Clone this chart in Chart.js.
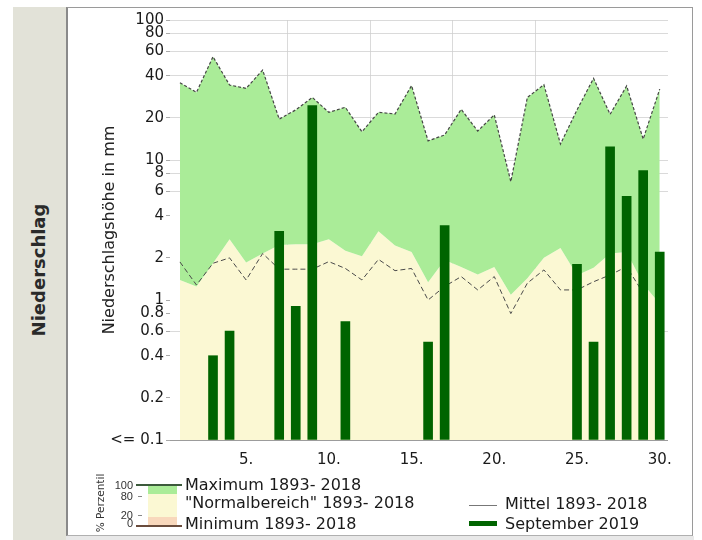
<!DOCTYPE html>
<html>
<head>
<meta charset="utf-8">
<script src="https://cdn.jsdelivr.net/npm/chart.js@4.4.0/dist/chart.umd.min.js"></script>
<style>
  body { margin: 0; background: #fff; font-family: "DejaVu Sans", sans-serif; color: #1a1a1a; }
  #wrap { position: relative; width: 702px; height: 540px; overflow: hidden; }
  #band { position: absolute; left: 13px; top: 7px; width: 53px; height: 533px; background: #e2e2d8; }
  #frame { position: absolute; left: 66px; top: 7px; width: 624px; height: 527px;
           border-top: 1px solid #9a9a9a; border-left: 2px solid #8a8a8a;
           border-right: 1px solid #9a9a9a; border-bottom: 1px solid #b0b0b0; }
  #under { position: absolute; left: 66px; top: 536px; width: 628px; height: 4px; background: #e8e8e8; }
  .rot { position: absolute; white-space: nowrap; transform: translate(-50%, -50%) rotate(-90deg); }
  #bandText { left: 38px; top: 270px; font-weight: bold; font-size: 18px; color: #2a2a2a; }
  #perz { left: 100px; top: 503px; font-size: 10.5px; color: #333; }
  canvas { position: absolute; left: 0; top: 0; z-index: 1; }
  .lg { position: absolute; z-index: 2; font-size: 16px; line-height: 16px; white-space: nowrap; }
  .pl { position: absolute; z-index: 2; font-family: "Liberation Sans Narrow", "Liberation Sans", sans-serif;
        font-size: 11px; line-height: 11px; color: #333; width: 20px; text-align: right; }
  .sw { position: absolute; z-index: 2; }
</style>
</head>
<body>
<div id="wrap">
  <div id="band"></div>
  <div id="bandText" class="rot">Niederschlag</div>
  <div id="frame"></div>
  <div id="under"></div>
  <canvas id="chart" width="702" height="540" style="width:702px;height:540px"></canvas>

  <!-- percentile key -->
  <div id="perz" class="rot" style="z-index:2">% Perzentil</div>
  <div class="pl" style="left:113px;top:480px">100</div>
  <div class="pl" style="left:113px;top:491px">80</div>
  <div class="pl" style="left:113px;top:510px">20</div>
  <div class="pl" style="left:113px;top:518px">0</div>
  <div class="sw" style="left:138px;top:496px;width:4px;height:1px;background:#888"></div>
  <div class="sw" style="left:138px;top:515px;width:4px;height:1px;background:#888"></div>
  <div class="sw" style="left:148px;top:485px;width:29px;height:9px;background:#aaec98"></div>
  <div class="sw" style="left:148px;top:494px;width:29px;height:23px;background:#fbf8d3"></div>
  <div class="sw" style="left:148px;top:517px;width:29px;height:8px;background:#f8d8bc"></div>
  <div class="sw" style="left:136px;top:484px;width:46px;height:2px;background:#3c5a3c"></div>
  <div class="sw" style="left:136px;top:525px;width:46px;height:2px;background:#6a4c3c"></div>
  <div class="lg" style="left:185px;top:477px">Maximum 1893- 2018</div>
  <div class="lg" style="left:185px;top:495px">"Normalbereich" 1893- 2018</div>
  <div class="lg" style="left:185px;top:516px">Minimum 1893- 2018</div>

  <div class="sw" style="left:469px;top:505px;width:28px;height:1px;background:#777"></div>
  <div class="lg" style="left:505px;top:496px">Mittel 1893- 2018</div>
  <div class="sw" style="left:469px;top:521px;width:28px;height:5px;background:#006400"></div>
  <div class="lg" style="left:505px;top:516px">September 2019</div>
</div>

<script>
// ==== DATA ====
const days = [1,2,3,4,5,6,7,8,9,10,11,12,13,14,15,16,17,18,19,20,21,22,23,24,25,26,27,28,29,30];
// Maximum 1893-2018 (mm)
const maxVals = [35.6,30.4,54.7,34.3,32.5,43.9,19.6,22.8,28.0,21.9,23.8,15.9,21.9,21.3,34.0,
                 13.7,15.1,23.0,16.1,21.0,7.0,28.0,34.5,13.0,22.8,38.3,21.2,33.8,14.1,32.1];
// upper limit of the "Normalbereich" (80. Perzentil)
const normUpper = [1.39,1.25,1.83,2.72,1.85,2.15,2.47,2.5,2.5,2.72,2.25,2.05,3.1,2.45,2.2,
                   1.34,1.93,1.72,1.52,1.72,1.09,1.43,2.0,2.35,1.5,1.7,2.15,2.2,1.3,0.94];
// Mittel 1893-2018
const meanVals = [1.87,1.28,1.83,2.0,1.39,2.15,1.66,1.66,1.66,1.88,1.68,1.39,1.95,1.62,1.68,
                  1.0,1.25,1.47,1.18,1.47,0.8,1.32,1.64,1.18,1.18,1.35,1.51,1.73,1.12,null];
// September 2019
const sep2019 = [null,null,0.4,0.6,null,null,3.1,0.9,24.5,null,0.7,null,null,null,null,
                 0.5,3.4,null,null,null,null,null,null,null,1.8,0.5,12.4,5.5,8.4,2.2];

const yTicks = [100,80,60,40,20,10,8,6,4,2,1,0.8,0.6,0.4,0.2,0.1];
const yGridAt = [100,80,60,40,20,10,8,6,0.6];
const xTicks = [5,10,15,20,25,30];
const xGridAt = [10,15,20,25];

const GREEN = '#aaec98';
const BEIGE = '#fbf8d3';
const GRID = 'rgba(205,205,205,0.75)';
const tickFont = { family: 'DejaVu Sans', size: 15 };

new Chart(document.getElementById('chart'), {
  type: 'line',
  data: {
    labels: days,
    datasets: [
      { type: 'bar', label: 'September 2019', data: sep2019, backgroundColor: '#006400',
        barThickness: 9, base: 0.1, order: 0 },
      { label: 'Mittel 1893- 2018', data: meanVals, borderColor: '#4a4a4a', borderWidth: 1,
        borderDash: [5, 3], pointRadius: 0, fill: false, spanGaps: false, order: 1 },
      { label: 'Maximum 1893- 2018', data: maxVals, borderColor: '#454545', borderWidth: 1.2,
        borderDash: [3, 2], pointRadius: 0, backgroundColor: GREEN, fill: 3, order: 2 },
      { label: 'Normalbereich', data: normUpper, borderWidth: 0, borderColor: 'rgba(0,0,0,0)',
        pointRadius: 0, backgroundColor: BEIGE, fill: 'start', order: 3 }
    ]
  },
  options: {
    responsive: false,
    animation: false,
    layout: { padding: { left: 100, right: 34, top: 20, bottom: 0 } },
    plugins: { legend: { display: false }, tooltip: { enabled: false } },
    scales: {
      x: {
        type: 'linear', min: 0.4, max: 30.5, offset: false, z: 1,
        afterBuildTicks: s => { s.ticks = xTicks.map(v => ({ value: v })); },
        afterFit: s => { s.height = 100; },
        grid: { color: c => (c.tick && xGridAt.includes(c.tick.value)) ? GRID : 'rgba(0,0,0,0)', drawTicks: false },
        border: { display: false },
        ticks: { autoSkip: false, maxRotation: 0, padding: 11, color: '#1a1a1a', font: tickFont,
                 callback: v => v + '.' }
      },
      y: {
        type: 'logarithmic', min: 0.1, max: 100, z: 1,
        afterBuildTicks: s => { s.ticks = yTicks.map(v => ({ value: v })); },
        afterFit: s => { s.width = 70; },
        grid: {
          color: c => {
            if (!c.tick) return 'rgba(0,0,0,0)';
            if (c.tick.value === 0.1) return '#9c9c9c';
            return yGridAt.includes(c.tick.value) ? GRID : 'rgba(0,0,0,0)';
          },
          tickColor: '#aaa', tickLength: 4
        },
        border: { display: false },
        ticks: { autoSkip: false, padding: 2, color: '#1a1a1a', font: tickFont,
                 callback: v => v === 0.1 ? '<= 0.1' : String(v) },
        title: { display: true, text: 'Niederschlagshöhe in mm', color: '#222',
                 font: { family: 'DejaVu Sans', size: 16 }, padding: 0 }
      }
    }
  }
});
</script>
</body>
</html>
